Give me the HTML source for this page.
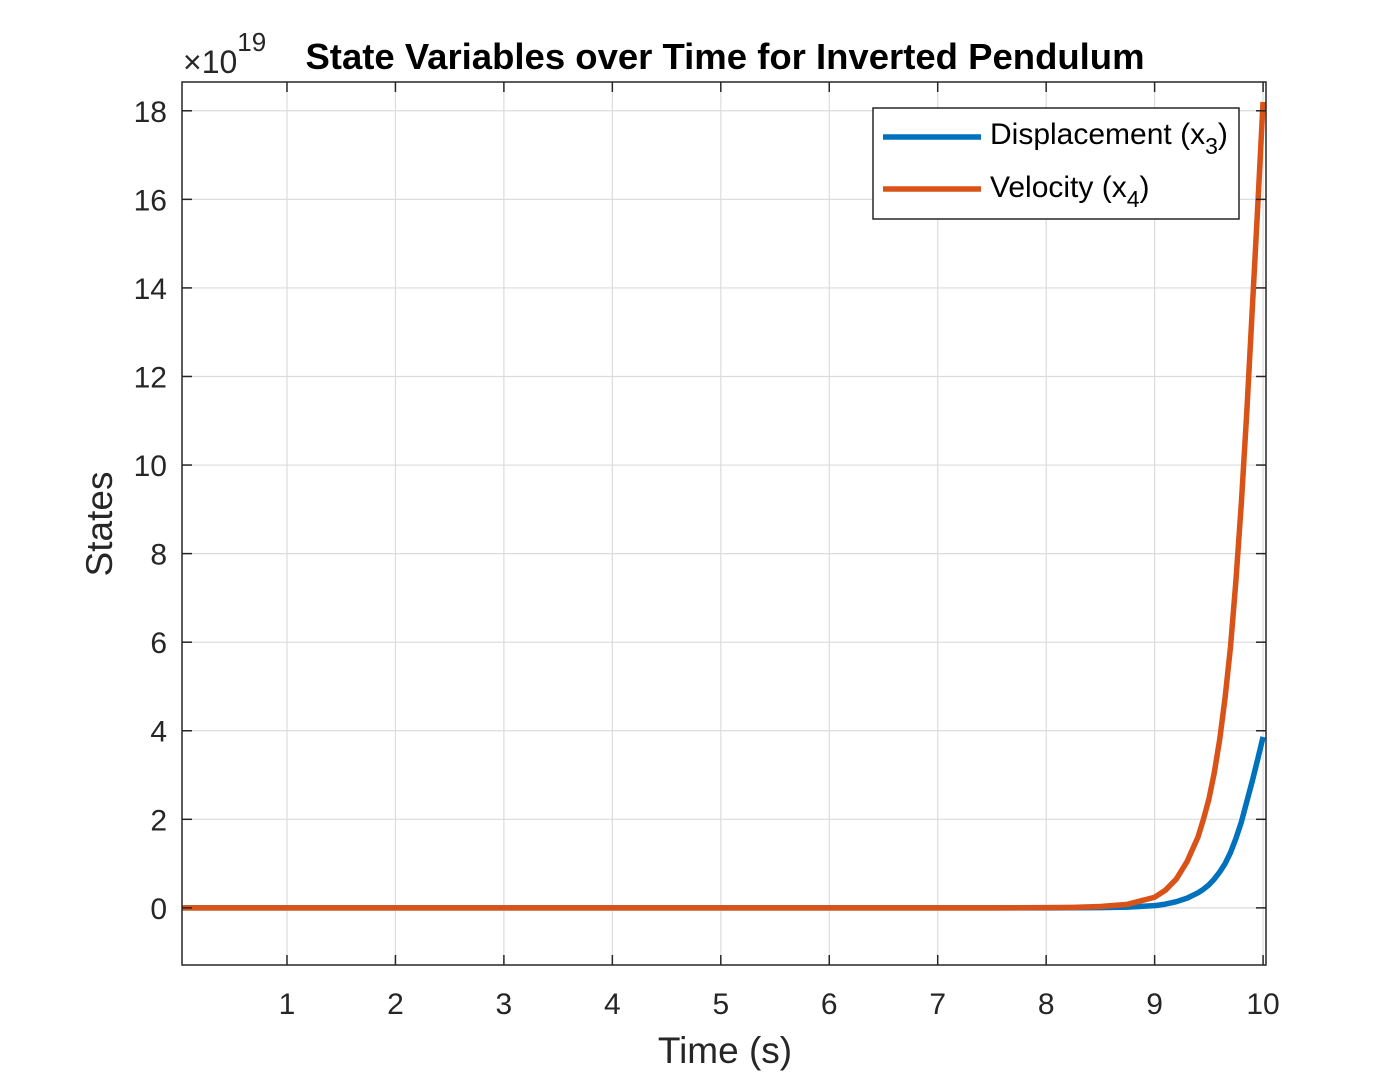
<!DOCTYPE html>
<html><head><meta charset="utf-8"><style>
html,body{margin:0;padding:0;background:#fff;}
svg{display:block;font-family:"Liberation Sans",Arial,sans-serif;}
</style></head><body>
<svg id="chart" width="1400" height="1086" viewBox="0 0 1400 1086">
<rect width="1400" height="1086" fill="#fff"/>
<g id="grid"></g>
<g id="series"></g>
<rect x="182" y="82" width="1084" height="883" fill="none" stroke="#262626" stroke-width="1.5"/>
<g id="ticks"></g>
<text x="725" y="69" text-anchor="middle" font-size="36.5" font-weight="bold" fill="#000">State Variables over Time for Inverted Pendulum</text>
<text x="183" y="73" font-size="32" fill="#262626">×10<tspan font-size="26" dy="-22">19</tspan></text>
<text x="725" y="1063" text-anchor="middle" font-size="37" fill="#262626">Time (s)</text>
<text transform="translate(112,524) rotate(-90)" text-anchor="middle" font-size="37" fill="#262626">States</text>
<g>
<rect x="873" y="108" width="366" height="111" fill="#fff" stroke="#262626" stroke-width="1.5"/>
<line x1="883" y1="137" x2="981" y2="137" stroke="#0072BD" stroke-width="5.5"/>
<text x="990" y="144" font-size="30" fill="#000">Displacement (x<tspan font-size="23" dy="10">3</tspan><tspan dy="-10">)</tspan></text>
<line x1="883" y1="189" x2="981" y2="189" stroke="#D95319" stroke-width="5.5"/>
<text x="990" y="197" font-size="30" fill="#000">Velocity (x<tspan font-size="23" dy="10">4</tspan><tspan dy="-10">)</tspan></text>
</g>
</svg>
<script>
const times = [0,1,2,3,4,5,6,7,7.5,8,8.25,8.5,8.75,9,9.1,9.2,9.3,9.4,9.45,9.5,9.55,9.6,9.65,9.7,9.75,9.8,9.85,9.9,9.95,10];
const displacement = [0,0,0,0,0,0,0,0,0,0.001,0.003,0.006,0.017,0.05,0.085,0.14,0.22,0.34,0.42,0.52,0.65,0.81,1.0,1.25,1.57,1.94,2.4,2.86,3.35,3.86];
const velocity = [0,0,0,0,0,0,0,0,0.001,0.005,0.012,0.03,0.08,0.24,0.4,0.65,1.05,1.6,2.0,2.45,3.05,3.8,4.75,5.9,7.4,9.15,11.2,13.5,15.8,18.2];
const xTicks = [1,2,3,4,5,6,7,8,9,10];
const yTicks = [0,2,4,6,8,10,12,14,16,18];

const NS = "http://www.w3.org/2000/svg";
const L=182,R=1266,T=82,B=965;
const xMin=0.032,xMax=10.027,yMin=-1.29,yMax=18.65;
function xs(v){return L+(v-xMin)/(xMax-xMin)*(R-L);}
function ys(v){return B-(v-yMin)/(yMax-yMin)*(B-T);}
function mk(tag,attrs,parent){const e=document.createElementNS(NS,tag);for(const k in attrs)e.setAttribute(k,attrs[k]);parent.appendChild(e);return e;}
const grid=document.getElementById('grid'),ticks=document.getElementById('ticks'),series=document.getElementById('series');
xTicks.forEach(v=>{
  const x=xs(v);
  const g=mk('line',{x1:x,y1:T,x2:x,y2:B,stroke:'#dcdcdc','stroke-width':1.2},grid);
  
  
  const t1=mk('line',{x1:x,y1:B,x2:x,y2:B-10,stroke:'#262626','stroke-width':1.5},ticks);
  
  
  const t2=mk('line',{x1:x,y1:T,x2:x,y2:T+10,stroke:'#262626','stroke-width':1.5},ticks);
  
  
  const lb=mk('text',{x:x,y:1014,'text-anchor':'middle','font-size':30,fill:'#262626'},ticks);
  lb.textContent=v;
  
  
});
yTicks.forEach(v=>{
  const y=ys(v);
  const g=mk('line',{x1:L,y1:y,x2:R,y2:y,stroke:'#dcdcdc','stroke-width':1.2},grid);
  
  
  const t1=mk('line',{x1:L,y1:y,x2:L+10,y2:y,stroke:'#262626','stroke-width':1.5},ticks);
  
  
  const t2=mk('line',{x1:R,y1:y,x2:R-10,y2:y,stroke:'#262626','stroke-width':1.5},ticks);
  
  
  const lb=mk('text',{x:167,y:y+11,'text-anchor':'end','font-size':30,fill:'#262626'},ticks);
  lb.textContent=v;
  
  
});
function pathFor(vals){return vals.map((v,i)=>(i?'L':'M')+xs(Math.max(times[i],xMin)).toFixed(2)+','+ys(v).toFixed(2)).join(' ');}
const p1=mk('path',{d:pathFor(displacement),fill:'none',stroke:'#0072BD','stroke-width':5.5,'stroke-linejoin':'round'},series);


const p2=mk('path',{d:pathFor(velocity),fill:'none',stroke:'#D95319','stroke-width':5.5,'stroke-linejoin':'round'},series);


</script>
</body></html>
